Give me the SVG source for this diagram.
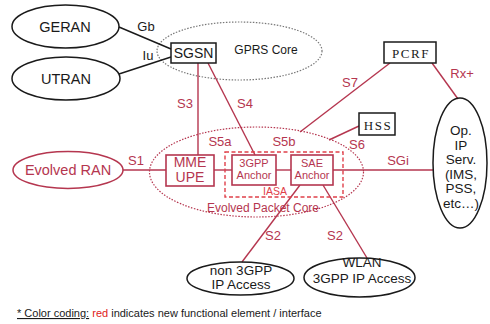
<svg xmlns="http://www.w3.org/2000/svg" width="490" height="324" viewBox="0 0 490 324">
<style>
text{font-family:"Liberation Sans",Arial,sans-serif;text-anchor:middle}
.k{fill:#1a1a1a}
.r{fill:#b5364f}
.bl{fill:none;stroke:#1a1a1a;stroke-width:1.5}
.rb{fill:#fff;stroke:#b5364f;stroke-width:1.6}
.kb{fill:#fff;stroke:#1a1a1a;stroke-width:1.5}
.lk{stroke:#1a1a1a;stroke-width:1.4;fill:none}
.lr{stroke:#b5364f;stroke-width:1.4;fill:none}
.lab{font-size:13px;fill:#b5364f}
.st{font-size:13.5px;fill:#1a1a1a}
.serif{font-family:"Liberation Serif","Times New Roman",serif;font-size:13px;letter-spacing:1.5px;fill:#1a1a1a}
</style>
<rect width="490" height="324" fill="#fff"/>

<g id="gprs-core">
<ellipse cx="239.5" cy="51" rx="82.5" ry="29" fill="none" stroke="#777" stroke-width="1.2" stroke-dasharray="1.5 1.5"/>
<text x="266" y="54" class="k" font-size="12">GPRS Core</text>
</g>
<g id="epc">
<ellipse cx="256.5" cy="172" rx="107" ry="45" fill="none" stroke="#b5364f" stroke-width="1.2" stroke-dasharray="1.5 1.5"/>
<text x="263" y="212" class="r" font-size="12">Evolved Packet Core</text>
</g>

<g id="connectors">
<line class="lk" x1="119" y1="27" x2="171" y2="49"/>
<line class="lk" x1="119" y1="74" x2="171" y2="57"/>
<line class="lr" x1="198" y1="63" x2="198" y2="155"/>
<line class="lr" x1="208" y1="63" x2="255" y2="155"/>
<line class="lr" x1="390" y1="63" x2="300" y2="132"/>
<line class="lr" x1="432" y1="63" x2="458" y2="99"/>
<line class="lr" x1="359" y1="126" x2="329" y2="140"/>
<line class="lr" x1="122" y1="170" x2="166" y2="170"/>
<line class="lr" x1="214" y1="170" x2="232" y2="170"/>
<line class="lr" x1="276" y1="170" x2="291" y2="170"/>
<line class="lr" x1="333" y1="170" x2="433" y2="170"/>
<line class="lr" x1="300" y1="185" x2="242" y2="262"/>
<line class="lr" x1="323" y1="185" x2="367" y2="258"/>
<text x="146" y="31" class="k" font-size="13">Gb</text>
<text x="148" y="60" class="k" font-size="13">Iu</text>
<text x="185" y="108" class="lab">S3</text>
<text x="245" y="108" class="lab">S4</text>
<text x="350" y="87" class="lab">S7</text>
<text x="462" y="78" class="lab">Rx+</text>
<text x="220" y="146" class="lab">S5a</text>
<text x="284" y="146" class="lab">S5b</text>
<text x="357" y="149" class="lab">S6</text>
<text x="398" y="165" class="lab">SGi</text>
<text x="136" y="165" class="lab">S1</text>
<text x="273" y="240" class="lab">S2</text>
<text x="335" y="240" class="lab">S2</text>
</g>

<g id="geran">
<ellipse cx="65.5" cy="26.5" rx="53.5" ry="21.5" class="bl"/>
<text x="65" y="31.5" class="k" font-size="14.5">GERAN</text>
</g>
<g id="utran">
<ellipse cx="66" cy="78.5" rx="54" ry="21.5" class="bl"/>
<text x="66" y="83.5" class="k" font-size="14.5">UTRAN</text>
</g>
<g id="sgsn">
<rect x="171" y="43" width="45" height="20" class="kb"/>
<text x="193.5" y="58" class="k" font-size="14">SGSN</text>
</g>
<g id="pcrf">
<rect x="384" y="42" width="52" height="21" class="kb"/>
<text x="411" y="58" class="serif">PCRF</text>
</g>
<g id="hss">
<rect x="359" y="113" width="36" height="22" class="kb"/>
<text x="378" y="129.5" class="serif">HSS</text>
</g>
<g id="evolved-ran">
<ellipse cx="68" cy="170" rx="55" ry="18.5" fill="#fff" stroke="#b5364f" stroke-width="1.5"/>
<text x="68" y="175" class="r" font-size="14.5">Evolved RAN</text>
</g>
<g id="mme-upe">
<rect x="166" y="155" width="48" height="31" class="rb"/>
<text x="190" y="167" class="r" font-size="14">MME</text>
<text x="190" y="182" class="r" font-size="14">UPE</text>
</g>
<g id="iasa">
<rect x="225" y="152" width="118" height="45" fill="none" stroke="#e0404a" stroke-width="1.4" stroke-dasharray="4 2.5"/>
<text x="275" y="195" fill="#e0404a" font-size="10.5">IASA</text>
</g>
<g id="anchor-3gpp">
<rect x="232" y="155" width="44" height="30" class="rb"/>
<text x="254" y="167" class="r" font-size="11">3GPP</text>
<text x="254" y="178.5" class="r" font-size="11">Anchor</text>
</g>
<g id="sae-anchor">
<rect x="291" y="155" width="42" height="30" class="rb"/>
<text x="312" y="167" class="r" font-size="11">SAE</text>
<text x="312" y="178.5" class="r" font-size="11">Anchor</text>
</g>
<g id="op-ip-serv">
<ellipse cx="460" cy="163" rx="27" ry="65" class="bl"/>
<text x="461" y="135" class="st">Op.</text>
<text x="461" y="149.5" class="st">IP</text>
<text x="461" y="164" class="st">Serv.</text>
<text x="461" y="178.5" class="st">(IMS,</text>
<text x="461" y="193" class="st">PSS,</text>
<text x="461" y="207.5" class="st">etc…)</text>
</g>
<g id="non-3gpp">
<ellipse cx="240.5" cy="278.5" rx="53.5" ry="16.5" class="bl"/>
<text x="241" y="274.5" class="st">non 3GPP</text>
<text x="241" y="289" class="st">IP Access</text>
</g>
<g id="wlan">
<ellipse cx="359.5" cy="277.5" rx="55.5" ry="19.5" class="bl"/>
<text x="362" y="267" class="st">WLAN</text>
<text x="362" y="283" class="st">3GPP IP Access</text>
</g>

<g id="footer">
<text x="17" y="317" font-size="11" style="text-anchor:start" class="k"><tspan text-decoration="underline">* Color coding:</tspan> <tspan fill="#e02020">red</tspan> indicates new functional element / interface</text>
</g>
</svg>
